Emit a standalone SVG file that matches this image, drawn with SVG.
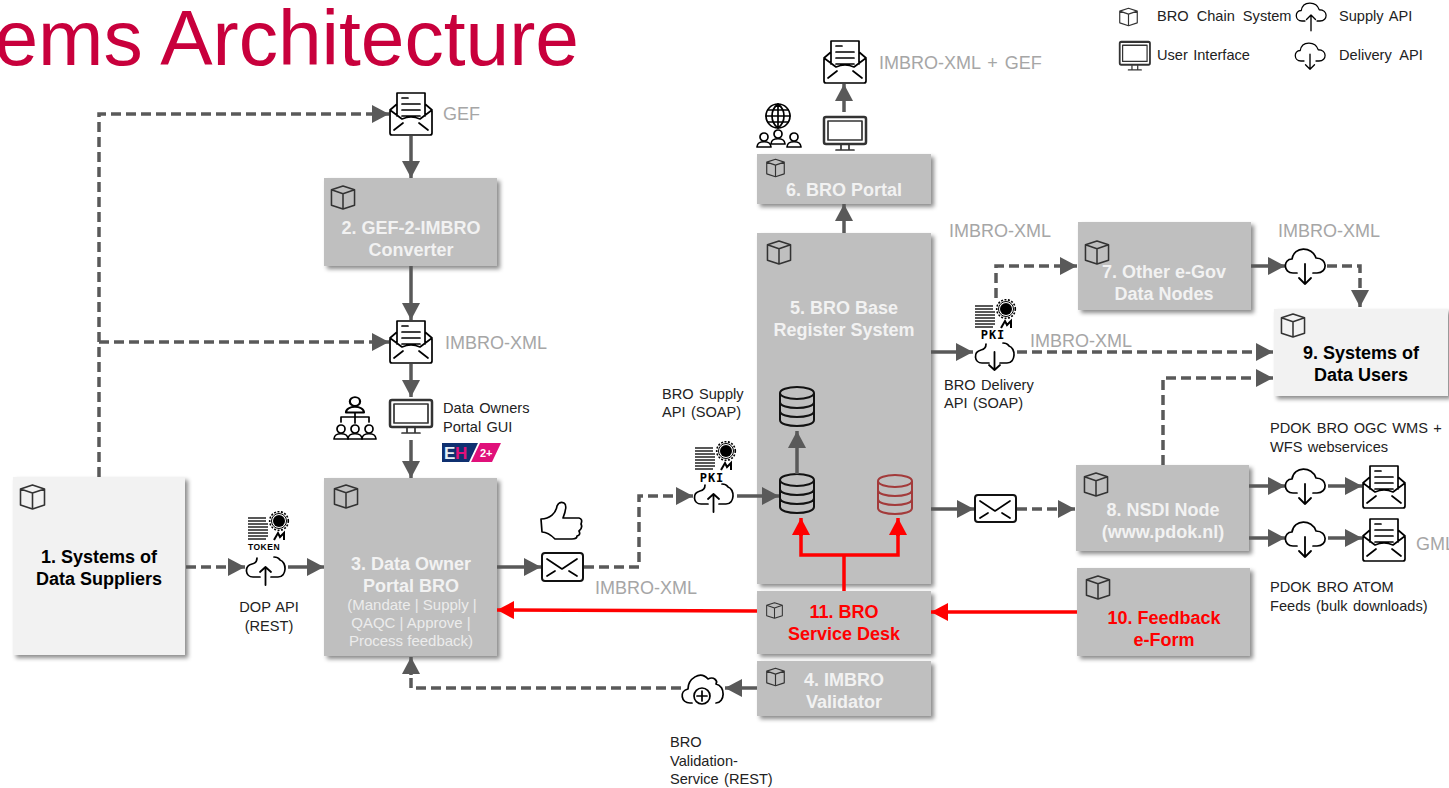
<svg xmlns="http://www.w3.org/2000/svg" width="1449" height="788" viewBox="0 0 1449 788">
<style>
text{font-family:"Liberation Sans",Arial,sans-serif}
.title{font-size:78.500px;fill:#c8003c}
.n{font-size:18px;font-weight:bold;text-anchor:middle;fill:#f2f2f2}
.d{fill:#000}
.r{fill:#f00}
.s{font-size:15px;text-anchor:middle;fill:#ececec}
.g{font-size:18px;fill:#a6a6a6}
.l{font-size:14.600px;fill:#222;word-spacing:1.300px}
.box{fill:#bfbfbf;filter:url(#sh)}
.lt{fill:#f2f2f2;filter:url(#sh)}
.i{fill:none;stroke:#000;stroke-width:1.700;stroke-linejoin:round;stroke-linecap:round}
.i1{fill:none;stroke:#333;stroke-width:1.600;stroke-linejoin:round}
.c{fill:none;stroke:#595959;stroke-width:3.500}
.da{stroke-dasharray:10 5}
.ar{marker-end:url(#a)}
.rd{fill:none;stroke:#f00;stroke-width:3.500}
.ra{marker-end:url(#ra)}
.tk{font-size:8.500px;font-weight:bold;text-anchor:middle;fill:#000;letter-spacing:.5px}
.pk{font-family:"DejaVu Sans Mono","Liberation Mono",monospace;font-size:12px;font-weight:bold;text-anchor:middle;fill:#000;letter-spacing:1px}
</style>
<defs>
<filter id="sh" x="-10%" y="-10%" width="125%" height="125%"><feDropShadow dx="3" dy="3" stdDeviation="2" flood-color="#000" flood-opacity=".45"/></filter>
<marker id="a" markerUnits="userSpaceOnUse" markerWidth="18" markerHeight="18" refX="17" refY="9" orient="auto"><path d="M0 0L17 9L0 18Z" fill="#595959"/></marker>
<marker id="ra" markerUnits="userSpaceOnUse" markerWidth="18" markerHeight="18" refX="17" refY="9" orient="auto"><path d="M0 0L17 9L0 18Z" fill="#f00"/></marker>
<symbol id="cube" viewBox="0 0 26 26" overflow="visible"><path class="i1" d="M13 1L25 5V21L13 25L1 21V5ZM1 5L13 9L25 5M13 9V25"/></symbol>
<g id="env" class="i"><path d="M8 12L1 18V41Q1 43 3 43H41Q43 43 43 41V18L36 12M8 24V1H36V24M1 18L13 27Q22 23 31 27L43 18M5 38L14 31M39 38L30 31M13 6H19M13 12H31M13 18H31M13 24H31"/></g>
<g id="mon" class="i"><rect x="1" y="1" width="42" height="27" rx="2" stroke="#333" stroke-width="2.500"/><rect x="5" y="5" width="34" height="19" stroke="#333"/><path d="M18 29V33M26 29V33M13 34H31" stroke="#333"/></g>
<g id="cd" class="i"><path d="M12 24H8C-2 24 -2 10 7 10C9 -3 27 -3 31 9C43 9 43 24 32 24H28"/><path d="M20 15V35M14 29L20 35L26 29" stroke-width="1.800"/></g>
<g id="cu" class="i"><path d="M12 24H8C-2 24 -2 10 7 10C9 -3 27 -3 31 9C43 9 43 24 32 24H28"/><path d="M20 37V16M14 22L20 16L26 22" stroke-width="1.800"/></g>
<g id="cutu" class="i"><path d="M12 1Q12 6 7 7C-1 9 0 20 8 20H15M29 0C34 0 34 2 35 3C42 5 42 20 33 20H26"/><path d="M20.500 28V10M15 15L20.500 10L26 15" stroke-width="1.800"/></g>
<g id="cutd" class="i"><path d="M12 1Q12 6 7 7C-1 9 0 20 8 20H15M29 0C34 0 34 2 35 3C42 5 42 20 33 20H26"/><path d="M20.500 9V27M15 22L20.500 27L26 22" stroke-width="1.800"/></g>
<g id="cert"><path d="M0 2H18M0 5H18M0 8H20M0 11H20M0 14H20M0 17H20M0 20H20M0 23H18" stroke="#222" stroke-width="1.600" fill="none"/><circle cx="31" cy="5" r="6" fill="#000"/><circle cx="31" cy="5" r="7.500" fill="none" stroke="#000" stroke-width="1"/><circle cx="31" cy="5" r="9.300" fill="none" stroke="#000" stroke-width="1.600" stroke-dasharray="2 1.500"/><path d="M26 24L30 17L32 21L36 17V24" stroke="#000" stroke-width="2" fill="none"/></g>
<g id="db" fill="none" stroke-width="2"><ellipse cx="18" cy="6" rx="17" ry="6"/><path d="M1 6V33C1 41 35 41 35 33V6M1 15C1 23 35 23 35 15M1 24C1 32 35 32 35 24"/></g>
<g id="pp" class="i"><circle cx="7" cy="5" r="4"/><path d="M0 15C0 8 14 8 14 15Z"/></g>
</defs>
<rect width="1449" height="788" fill="#fff"/>
<text class="title" x="579" y="65" text-anchor="end">ems Architecture</text>

<path d="M890 596Q899 586 908 596Z" fill="#a04848"/>

<g id="node-1"><rect class="lt" x="13" y="477" width="172" height="178"/><use href="#cube" x="19" y="484" width="27" height="26"/><text class="n d" x="99" y="563">1. Systems of</text><text class="n d" x="99" y="585">Data Suppliers</text></g>
<g id="node-2"><rect class="box" x="324" y="178" width="173" height="88"/><use href="#cube" x="330" y="185" width="26" height="25"/><text class="n" x="411" y="234">2. GEF-2-IMBRO</text><text class="n" x="411" y="256">Converter</text></g>
<g id="node-3"><rect class="box" x="324" y="478" width="173" height="178"/><use href="#cube" x="333" y="484" width="26" height="25"/><text class="n" x="411" y="570">3. Data Owner</text><text class="n" x="411" y="592">Portal BRO</text><text class="s" x="412" y="610">(Mandate | Supply |</text><text class="s" x="411" y="628">QAQC | Approve |</text><text class="s" x="411" y="646">Process feedback)</text></g>
<g id="node-5"><rect class="box" x="757" y="233" width="174" height="351"/><use href="#cube" x="766" y="240" width="26" height="25"/><text class="n" x="844" y="314">5. BRO Base</text><text class="n" x="844" y="336">Register System</text><use href="#db" x="779" y="387" stroke="#111"/><use href="#db" x="779" y="474" stroke="#111"/><use href="#db" x="877" y="475" stroke="#a33a3a"/></g>
<g id="node-6"><rect class="box" x="757" y="154" width="174" height="50"/><use href="#cube" x="766" y="157" width="19" height="22"/><text class="n" x="844" y="196">6. BRO Portal</text></g>
<g id="node-7"><rect class="box" x="1078" y="222" width="173" height="88"/><use href="#cube" x="1084" y="240" width="26" height="25"/><text class="n" x="1164" y="278">7. Other e-Gov</text><text class="n" x="1164" y="300">Data Nodes</text></g>
<g id="node-9"><rect class="lt" x="1274" y="309" width="174" height="87"/><use href="#cube" x="1280" y="313" width="26" height="25"/><text class="n d" x="1361" y="359">9. Systems of</text><text class="n d" x="1361" y="381">Data Users</text></g>
<g id="node-8"><rect class="box" x="1076" y="465" width="173" height="86"/><use href="#cube" x="1083" y="472" width="26" height="25"/><text class="n" x="1163" y="516">8. NSDI Node</text><text class="n" x="1163" y="538">(www.pdok.nl)</text></g>
<g id="node-10"><rect class="box" x="1077" y="568" width="173" height="88"/><use href="#cube" x="1085" y="575" width="26" height="25"/><text class="n r" x="1164" y="624">10. Feedback</text><text class="n r" x="1164" y="646">e-Form</text></g>
<g id="node-11"><rect class="box" x="757" y="591" width="174" height="63"/><use href="#cube" x="766" y="600" width="17" height="21"/><text class="n r" x="844" y="618">11. BRO</text><text class="n r" x="844" y="640">Service Desk</text></g>
<g id="node-4"><rect class="box" x="757" y="661" width="174" height="55"/><use href="#cube" x="766" y="666" width="19" height="22"/><text class="n" x="844" y="686">4. IMBRO</text><text class="n" x="844" y="708">Validator</text></g>

<g id="connectors">
<path class="c da" d="M99 477V114H372"/>
<path class="c ar" d="M372 114H389"/>
<path class="c da" d="M99 342H372"/>
<path class="c ar" d="M372 342H389"/>
<path class="c ar" d="M411 136V178"/>
<path class="c ar" d="M411 266V320"/>
<path class="c ar" d="M411 364V397"/>
<path class="c ar" d="M411 440V478"/>
<path class="c da" d="M186 567H228"/>
<path class="c ar" d="M228 567H245"/>
<path class="c ar" d="M288 567H324"/>
<path class="c ar" d="M497 567H541"/>
<path class="c da" d="M584 567H639V496H677"/>
<path class="c ar" d="M676 496H693"/>
<path class="c ar" d="M737 496H779"/>
<path class="c ar" d="M797 474V431"/>
<path class="rd" d="M844 591V555H801V534M844 555H898V534"/>
<path class="rd ra" d="M801 536V518"/>
<path class="rd ra" d="M898 536V518"/>
<path class="rd ra" d="M757 611L497 610"/>
<path class="rd ra" d="M1077 612H931"/>
<path class="c ar" d="M757 688H725"/>
<path class="c da" d="M681 688H411V672"/>
<path class="c ar" d="M411 675V657"/>
<path class="c ar" d="M844 233V204"/>
<path class="c ar" d="M844 112V84"/>
<path class="c ar" d="M931 352H973"/>
<path class="c da" d="M1017 352H1256"/>
<path class="c ar" d="M1256 352H1273"/>
<path class="c da" d="M996 298V266H1060"/>
<path class="c ar" d="M1060 266H1077"/>
<path class="c ar" d="M1251 266H1285"/>
<path class="c da" d="M1327 266H1360V291"/>
<path class="c ar" d="M1360 290V307"/>
<path class="c da" d="M1163 465V378H1256"/>
<path class="c ar" d="M1256 378H1273"/>
<path class="c ar" d="M931 509H974"/>
<path class="c da" d="M1017 509H1060"/>
<path class="c ar" d="M1058 509H1075"/>
<path class="c ar" d="M1249 486H1285"/>
<path class="c ar" d="M1328 486H1362"/>
<path class="c ar" d="M1249 538H1285"/>
<path class="c ar" d="M1328 538H1362"/>
</g>

<g id="icon-env-gef"><use href="#env" x="389" y="92"/><text class="g" x="443" y="120">GEF</text></g>
<g id="icon-env-imbro"><use href="#env" x="389" y="320"/><text class="g" x="445" y="349">IMBRO-XML</text></g>
<g id="icon-gui"><use href="#mon" x="389" y="399"/><text class="l" x="443" y="413">Data Owners</text><text class="l" x="443" y="432">Portal GUI</text></g>
<g id="icon-org"><use href="#pp" transform="translate(346 396) scale(1.280 1.100)"/><path class="i" d="M355 413V417M341 422V417H369V422M355 417V423"/><use href="#pp" x="334" y="424"/><use href="#pp" x="348" y="424"/><use href="#pp" x="362" y="424"/></g>
<g id="logo-eh"><path d="M442 443H478L469 462H442Z" fill="#0f3070"/><path d="M480 443H501L492 462H471Z" fill="#e0107a"/><text x="444" y="459" font-size="17" font-weight="bold" fill="#e8f0f8">E</text><text x="455" y="459" font-size="17" font-weight="bold" fill="#e0107a">H</text><text x="480" y="457" font-size="11" font-weight="bold" fill="#fff">2+</text></g>
<g id="icon-token"><use href="#cert" x="248" y="516"/><text class="tk" x="264" y="550">TOKEN</text><use href="#cutu" x="245" y="557"/><text class="l" x="269" y="612" text-anchor="middle">DOP API</text><text class="l" x="269" y="631" text-anchor="middle">(REST)</text></g>
<g id="icon-env-small"><rect x="542" y="553" width="41" height="28" rx="3" fill="none" stroke="#111" stroke-width="2"/><path class="i" d="M547 559L562 569L577 559M547 576L555 571M577 576L569 571"/><path class="i" d="M541 519C550 519 556 513 557 506Q559 501 564 503Q568 505 563 518H579Q583 519 581 524Q583 528 579 531Q581 535 577 536Q577 539 572 539H555Q548 532 542 532Z"/><text class="g" x="595" y="594">IMBRO-XML</text></g>
<g id="icon-pki-supply"><text class="l" x="662" y="399">BRO Supply</text><text class="l" x="662" y="417">API (SOAP)</text><use href="#cert" x="695" y="446"/><text class="pk" x="712" y="482">PKI</text><use href="#cutu" x="693" y="484"/></g>
<g id="icon-portal"><use href="#env" x="823" y="40"/><text class="g" x="879" y="69" word-spacing="2">IMBRO-XML + GEF</text><use href="#mon" x="823" y="116"/><circle class="i" cx="778" cy="116" r="12"/><path class="i" stroke-width="1.400" d="M766 116H790M768 110H788M768 122H788M778 104V128M778 104C770 110 770 122 778 128M778 104C786 110 786 122 778 128"/><use href="#pp" transform="translate(757 132)"/><use href="#pp" transform="translate(771 129)"/><use href="#pp" transform="translate(787 132)"/></g>
<g id="icon-pki-delivery"><text class="g" x="949" y="237">IMBRO-XML</text><use href="#cert" x="975" y="304"/><text class="pk" x="993" y="339">PKI</text><use href="#cutd" x="974" y="343"/><text class="g" x="1030" y="347">IMBRO-XML</text><text class="l" x="944" y="390">BRO Delivery</text><text class="l" x="944" y="408">API (SOAP)</text></g>
<g id="icon-cloud-7"><text class="g" x="1278" y="237">IMBRO-XML</text><use href="#cd" x="1285" y="249"/></g>
<g id="icon-mail-8"><rect x="975" y="495" width="41" height="27" rx="3" fill="none" stroke="#111" stroke-width="2"/><path class="i" d="M980 501L995 511L1010 501M980 518L988 513M1010 518L1002 513"/></g>
<g id="icon-wms"><text class="l" x="1270" y="433">PDOK BRO OGC WMS +</text><text class="l" x="1270" y="452">WFS webservices</text><use href="#cd" x="1285" y="469"/><use href="#env" x="1362" y="465"/></g>
<g id="icon-atom"><use href="#cd" x="1285" y="522"/><use href="#env" x="1362" y="518"/><text class="g" x="1416" y="550">GML</text><text class="l" x="1270" y="592">PDOK BRO ATOM</text><text class="l" x="1270" y="611">Feeds (bulk downloads)</text></g>
<g id="icon-validation"><path class="i" d="M692 703H690C681 703 679 691 688 689C688 679 700 670 708 679C714 676 718 681 716 684C726 686 725 703 716 703"/><circle class="i" cx="702" cy="696" r="8"/><path class="i" stroke-width="1.600" d="M702 691V701M697 696H707"/><text class="l" x="670" y="747">BRO</text><text class="l" x="670" y="766">Validation-</text><text class="l" x="670" y="784">Service (REST)</text></g>
<g id="legend"><use href="#cube" x="1119" y="7" width="19" height="20"/><text class="l" x="1157" y="21" style="word-spacing:4px">BRO Chain System</text><use href="#cu" transform="translate(1296 3) scale(.75)"/><text class="l" x="1339" y="21" style="word-spacing:2px">Supply API</text><use href="#mon" transform="translate(1119 41) scale(.72 .85)"/><text class="l" x="1157" y="60">User Interface</text><use href="#cd" transform="translate(1295 43) scale(.75)"/><text class="l" x="1339" y="60" style="word-spacing:4.400px">Delivery API</text></g>
</svg>
